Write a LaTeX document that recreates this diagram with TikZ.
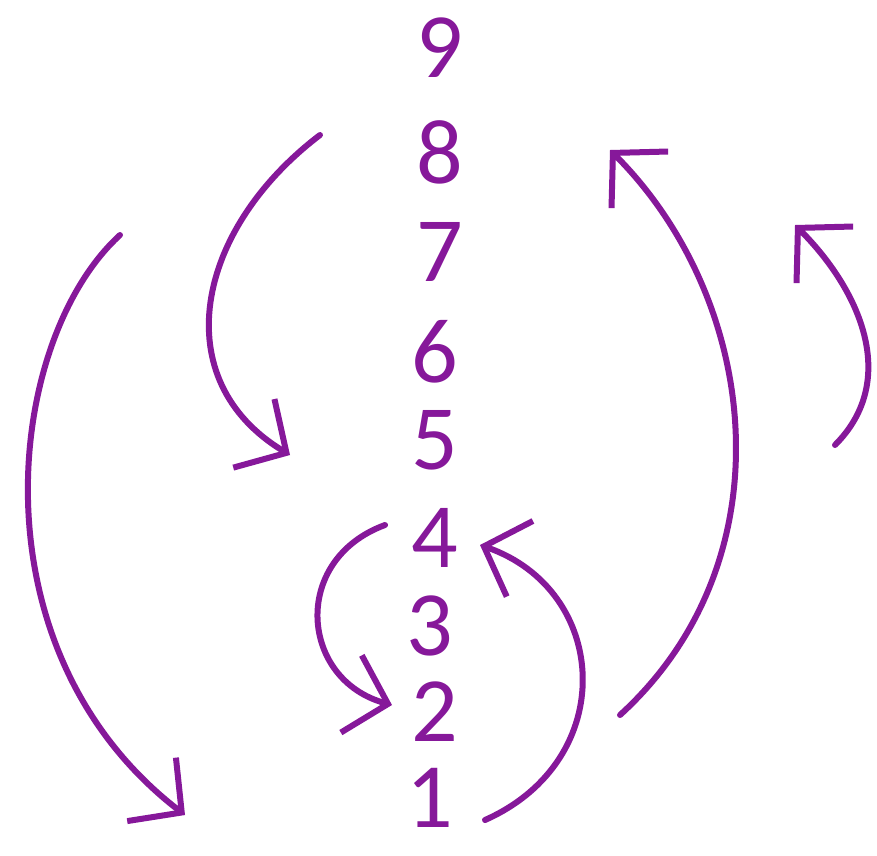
\documentclass[tikz,border=0pt]{standalone}
\usepackage{fontspec}
\setmainfont{Carlito}
\usetikzlibrary{arrows.meta}
\definecolor{marker}{HTML}{86189A}
\begin{document}
\begin{tikzpicture}[x=1pt,y=-1pt,
  digit/.style={text=marker,font=\fontsize{92}{92}\selectfont,inner sep=0pt},
  hand/.style={draw=marker,line width=6pt,line cap=round,line join=round,
    -{Straight Barb[length=38pt,width=80pt,line width=6pt]}}]
\useasboundingbox[fill=white] (0,0) rectangle (877,855);
\node[digit] (n9) at (440,48) {9};
\node[digit] (n8) at (440,152) {8};
\node[digit] (n7) at (440,252) {7};
\node[digit] (n6) at (435,352) {6};
\node[digit] (n5) at (435,440) {5};
\node[digit] (n4) at (435,538) {4};
\node[digit] (n3) at (430,626) {3};
\node[digit] (n2) at (435,712) {2};
\node[digit] (n1) at (430,798) {1};
\coordinate (a1s) at (320,135); \coordinate (a1e) at (290,455);
\coordinate (a2s) at (120,235); \coordinate (a2e) at (185,815);
\coordinate (a3s) at (385,525); \coordinate (a3e) at (392,705);
\coordinate (a4s) at (485,820); \coordinate (a4e) at (480,545);
\coordinate (a5s) at (620,715); \coordinate (a5e) at (610,150);
\coordinate (a6s) at (835,445); \coordinate (a6e) at (795,225);
\draw[hand] (a1s) .. controls (195,230) and (165,380) .. (a1e);
\draw[hand] (a2s) .. controls (5,340) and (-30,650) .. (a2e);
\draw[hand] (a3s) .. controls (290,560) and (300,680) .. (a3e);
\draw[hand] (a4s) .. controls (620,760) and (610,590) .. (a4e);
\draw[hand] (a5s) .. controls (790,560) and (760,300) .. (a5e);
\draw[hand] (a6s) .. controls (900,380) and (860,290) .. (a6e);
\end{tikzpicture}
\end{document}
